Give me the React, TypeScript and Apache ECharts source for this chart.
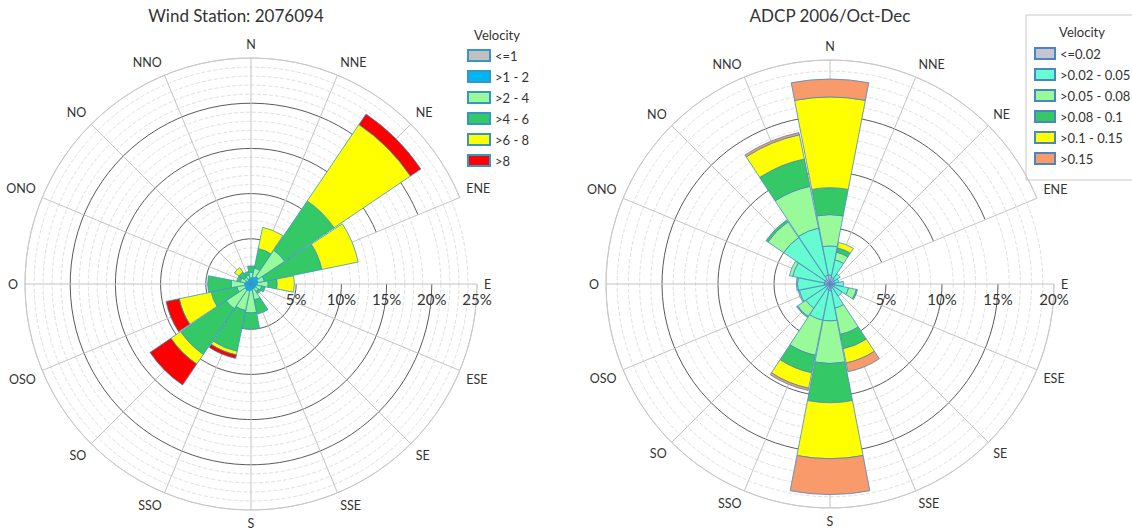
import React, { useEffect, useRef } from "react";
import * as echarts from "echarts";

// ---------- data ----------
const directions = ["N", "NNE", "NE", "ENE", "E", "ESE", "SE", "SSE", "S", "SSO", "SO", "OSO", "O", "ONO", "NO", "NNO"];

// Left rose: Wind Station 2076094 (% frequency per velocity class, per direction)
const windClasses = ["<=1", ">1 - 2", ">2 - 4", ">4 - 6", ">6 - 8", ">8"];
const windLe1 = [0.1, 0.1, 0.1, 0.1, 0.1, 0.1, 0.1, 0.1, 0.1, 0.1, 0.1, 0.1, 0.1, 0.1, 0.1, 0.1];
const wind1to2 = [0.6, 0.7, 0.9, 0.7, 0.6, 0.5, 0.5, 0.5, 0.6, 0.7, 0.7, 0.6, 0.6, 0.5, 0.4, 0.5];
const wind2to4 = [0.6, 1.0, 3.5, 0.7, 1.2, 0.6, 0.4, 1.2, 2.5, 2.2, 2.5, 0.9, 1.5, 0.6, 0.4, 0.4];
const wind4to6 = [0.7, 2.2, 6.6, 6.5, 1.0, 0.4, 0.3, 1.6, 1.8, 4.6, 6.1, 2.9, 2.6, 0.4, 0.7, 0.4];
const wind6to8 = [0, 2.4, 10.2, 4.1, 1.9, 0, 0, 0, 0, 0.4, 1.3, 3.6, 0, 0, 0.6, 0];
const windGt8 = [0, 0, 1.4, 0, 0, 0, 0, 0, 0, 0.4, 2.8, 1.5, 0, 0, 0, 0];
const windTicks = [0, 5, 10, 15, 20, 25];

// Right rose: ADCP 2006/Oct-Dec
const currentClasses = ["<=0.02", ">0.02 - 0.05", ">0.05 - 0.08", ">0.08 - 0.1", ">0.1 - 0.15", ">0.15"];
const curLe002 = [0.8, 0.6, 0.5, 0.4, 0.4, 0.4, 0.4, 0.4, 0.6, 0.5, 0.4, 0.4, 0.5, 0.5, 0.5, 0.8];
const cur002to005 = [2.6, 1.6, 0.6, 0.4, 0.8, 1.3, 0.9, 1.8, 2.7, 2.8, 2.2, 2.4, 2.4, 2.9, 4.5, 4.3];
const cur005to008 = [2.8, 0.7, 0, 0, 0, 0.7, 0, 2.4, 3.8, 3.2, 0.9, 0.1, 0.1, 0.3, 1.7, 3.8];
const cur008to01 = [2.4, 0.4, 0, 0, 0, 0.1, 0, 1.3, 3.5, 1.6, 0.1, 0, 0, 0, 0.2, 2.5];
const cur01to015 = [8.1, 0.5, 0, 0, 0, 0, 0, 1.3, 5.0, 1.4, 0, 0, 0, 0, 0, 2.2];
const curGt015 = [1.6, 0, 0, 0, 0, 0, 0, 0.8, 3.2, 0.2, 0, 0, 0, 0, 0, 0.2];
const currentTicks = [0, 5, 10, 15, 20];

const windColors = ["#C0C0C0", "#00B6F2", "#99FA99", "#35C866", "#FFFF00", "#FF0000"];
const currentColors = ["#C4C4D2", "#66FCD2", "#99FA99", "#35C866", "#FFFF00", "#F89A6A"];

const FONT = "Lato, 'Open Sans', sans-serif";
const TXT = "#333333";

// The radius axis is drawn at the angle axis start, so start at E (0°) and go clockwise.
const START = directions.indexOf("E");
function fromEast<T>(arr: T[]): T[] {
  return arr.slice(START).concat(arr.slice(0, START));
}

function buildSeries(names: string[], values: number[][], colors: string[], polarIndex: number, stack: string, border: string) {
  return names.map((name, i) => ({
    type: "bar",
    name,
    coordinateSystem: "polar",
    polarIndex,
    stack,
    barCategoryGap: "3%",
    silent: true,
    data: fromEast(values[i]).map((v) => (v === 0 ? "-" : v)),
    itemStyle: { color: colors[i], borderColor: border, borderWidth: 0.8 },
  }));
}

function angleAxis(polarIndex: number) {
  return {
    polarIndex,
    type: "category",
    data: fromEast(directions),
    boundaryGap: false,
    startAngle: 0,
    clockwise: true,
    axisLine: { show: true, lineStyle: { color: "#c8c8c8", width: 1 } },
    axisTick: { show: false },
    axisLabel: { color: TXT, fontSize: 12.5, margin: 7, fontFamily: FONT },
    splitLine: { show: true, lineStyle: { color: "#c4c4c4", width: 1 } },
  };
}

function radiusAxis(polarIndex: number, ticks: number[]) {
  const colors = ticks.map((_, i) => (i === ticks.length - 1 ? "#cccccc" : "#5a5a5a"));
  return {
    polarIndex,
    type: "value",
    min: ticks[0],
    max: ticks[ticks.length - 1],
    interval: ticks[1] - ticks[0],
    axisLine: { show: false },
    axisTick: { show: false },
    axisLabel: {
      formatter: (v: number) => (v === 0 ? "" : v + "%"),
      color: TXT,
      fontSize: 15,
      margin: -7,
      verticalAlign: "top",
      fontFamily: FONT,
    },
    splitLine: { show: true, lineStyle: { color: colors, width: 1 } },
    minorTick: { show: false, splitNumber: 5 },
    minorSplitLine: { show: true, lineStyle: { color: "#e0e0e0", type: "dashed", width: 1 } },
  };
}

function textEl(x: number, y: number, text: string, size: number) {
  return {
    type: "text",
    x,
    y,
    silent: true,
    style: {
      text,
      fill: TXT,
      font: `${size}px ${FONT}`,
      textAlign: "center",
      textVerticalAlign: "middle",
      align: "center",
      verticalAlign: "middle",
    },
  };
}

export default function App() {
  const ref = useRef<HTMLDivElement>(null);
  useEffect(() => {
    document.body.style.margin = "0";
    const chart = echarts.init(ref.current!, undefined, { renderer: "svg" });
    const windValues = [windLe1, wind1to2, wind2to4, wind4to6, wind6to8, windGt8];
    const curValues = [curLe002, cur002to005, cur005to008, cur008to01, cur01to015, curGt015];
    chart.setOption({
      animation: false,
      backgroundColor: "#ffffff",
      polar: [
        { center: [251, 284], radius: 226 },
        { center: [830, 284], radius: 224 },
      ],
      angleAxis: [angleAxis(0), angleAxis(1)],
      radiusAxis: [radiusAxis(0, windTicks), radiusAxis(1, currentTicks)],
      legend: [
        {
          data: windClasses,
          orient: "vertical",
          left: 462,
          top: 44,
          itemWidth: 22,
          itemHeight: 11,
          itemGap: 8,
          icon: "rect",
          selectedMode: false,
          textStyle: { color: TXT, fontSize: 13, fontFamily: FONT },
        },
        {
          data: currentClasses,
          orient: "vertical",
          left: 1026,
          top: 15,
          padding: [32, 14, 15, 8],
          borderColor: "#c8c8c8",
          borderWidth: 1,
          itemWidth: 20,
          itemHeight: 11,
          itemGap: 8,
          icon: "rect",
          selectedMode: false,
          textStyle: { color: TXT, fontSize: 13, fontFamily: FONT },
        },
      ],
      graphic: [
        textEl(236, 15, "Wind Station: 2076094", 17),
        textEl(830, 15, "ADCP 2006/Oct-Dec", 17),
        textEl(497, 35, "Velocity", 13),
        textEl(1082, 32, "Velocity", 13),
      ],
      series: [
        ...buildSeries(windClasses, windValues, windColors, 0, "wind", "#3597c4"),
        ...buildSeries(currentClasses, curValues, currentColors, 1, "current", "#4a86c0"),
      ],
    });
    return () => chart.dispose();
  }, []);
  return <div ref={ref} style={{ width: 1132, height: 531 }} />;
}
